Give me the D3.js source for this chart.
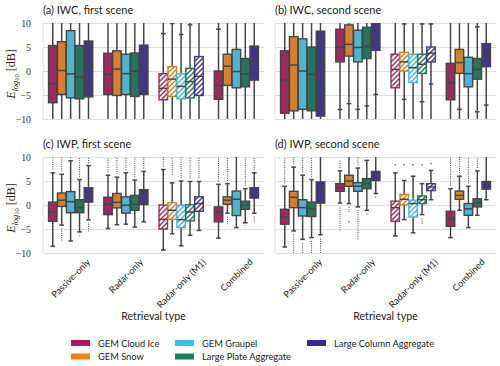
<!DOCTYPE html>
<html><head><meta charset="utf-8">
<script src="https://cdn.jsdelivr.net/npm/d3@7"></script>
<style>body{margin:0;background:#fff} svg{display:block}</style>
</head><body><svg id="c" width="500" height="366"></svg>
<script>
const retrievals = ["Passive-only", "Radar-only", "Radar-only (M1)", "Combined"];
const particles = ["GEM Cloud Ice", "GEM Snow", "GEM Graupel", "Large Plate Aggregate", "Large Column Aggregate"];
const particleColors = ["#b0175c", "#f4800f", "#36c3e8", "#1c7f5d", "#3a2796"];
const yTicks = [-10, -5, 0, 5, 10];
const panelTitles = ["(a) IWC, first scene", "(b) IWC, second scene", "(c) IWP, first scene", "(d) IWP, second scene"];
const hatchedRetrieval = "Radar-only (M1)";

// each box: [whisker low, q1, median, q3, whisker high]; rows = retrieval types, columns = particles
const iwcFirst = [
  [[-12, -6.6, -2.6, 5.3, 12], [-12, -4.9, 0.1, 6.1, 12], [-12, -5.6, -0.6, 8.4, 12], [-12, -5.8, -1.3, 5.3, 12], [-12, -5.4, 0.9, 6.25, 12]],
  [[-12, -4.9, -0.7, 3.7, 12], [-12, -5.1, 0.4, 4.2, 12], [-12, -4.9, -0.55, 3.5, 12], [-12, -5.3, -0.05, 3.75, 12], [-12, -4.9, 1.1, 5.4, 12]],
  [[-12, -6.0, -3.6, -0.55, 7.8], [-12, -5.3, -1.7, 0.9, 9.9], [-12, -5.8, -3.2, -0.6, 7.6], [-12, -5.6, -2.2, 0.55, 9.6], [-12, -5.1, -1.1, 3.0, 12]],
  [[-12, -5.9, -3.0, 0.0, 8.7], [-12, -3.0, 1.0, 3.5, 12], [-12, -3.5, -0.1, 4.5, 12], [-12, -3.3, -0.6, 2.6, 12], [-12, -1.9, 1.9, 5.2, 12]]
];
const iwcFirstFliers = [
  [[], [], [], [], []],
  [[], [], [], [], []],
  [[[7.8, 10]], [[9.9, 10]], [[7.6, 10]], [[9.6, 10]], []],
  [[[8.7, 10]], [], [], [], []]
];
const iwcSecond = [
  [[-12, -8.8, -1.9, 4.2, 12], [-12, -8.3, 1.25, 7.15, 12], [-12, -8.0, 0.0, 6.7, 12], [-12, -8.3, -0.7, 5.0, 12], [-12, -9.4, 2.4, 8.3, 12]],
  [[-8.0, 1.9, 5.0, 8.7, 12], [-6.8, 3.1, 5.55, 9.6, 12], [-8.0, 1.9, 4.9, 8.5, 12], [-7.3, 2.6, 5.1, 9.1, 12], [-4.9, 4.3, 6.5, 10.2, 12]],
  [[-12, -3.5, 0.35, 3.5, 12], [-5.9, 0.0, 1.9, 3.9, 9.8], [-12, -2.4, 0.7, 3.5, 12], [-6.4, -0.5, 1.4, 3.5, 9.8], [-2.7, 1.9, 3.7, 5.0, 9.8]],
  [[-12, -6.0, -2.4, 1.6, 12], [-8.0, -0.5, 1.75, 4.5, 12], [-12, -3.3, -0.55, 2.85, 12], [-8.5, -1.7, 0.35, 2.6, 9.2], [-7.1, 0.9, 3.5, 5.7, 12]]
];
const iwcSecondFliers = [
  [[], [], [], [], []],
  [[[-10, -8.0]], [[-10, -6.8]], [[-10, -8.0]], [[-10, -7.3]], [[-10, -4.9]]],
  [[], [[-10, -5.9], [9.8, 10]], [], [[-10, -6.4], [9.8, 10]], [[-10, -2.7], [9.8, 10]]],
  [[], [[-10, -8.0]], [], [[-10, -8.5], [9.2, 10]], [[-10, -7.1]]]
];
const iwpFirst = [
  [[-8.6, -3.4, -1.4, 0.6, 6.7], [-4.2, -0.3, 1.0, 2.5, 6.4], [-7.5, -1.6, 0.7, 2.8, 9.2], [-5.6, -1.6, -0.55, 1.1, 5.3], [-3.1, 0.6, 2.3, 3.6, 8.2]],
  [[-4.9, -2.0, 0.1, 1.6, 6.2], [-4.1, -0.6, 0.55, 2.4, 5.8], [-4.0, -1.7, -0.05, 1.7, 6.7], [-4.6, -1.1, 0.2, 2.0, 5.2], [-3.5, 0.1, 1.8, 3.2, 7.0]],
  [[-9.4, -5.0, -3.0, 0.0, 7.4], [-6.0, -3.0, -1.1, 0.5, 4.6], [-8.5, -4.7, -3.05, -0.05, 5.0], [-6.3, -3.3, -1.45, 0.05, 4.9], [-5.3, -1.3, 0.3, 1.7, 4.9]],
  [[-6.9, -3.5, -1.45, -0.4, 4.3], [-1.7, 0.15, 1.0, 1.7, 4.45], [-4.7, -2.2, 1.2, 2.9, 12], [-3.7, -0.9, -0.05, 0.8, 3.4], [-1.7, 1.45, 2.5, 3.6, 6.7]]
];
const iwpFirstFliers = [
  [[[7.4, 10]], [[-7.4, -4.9], [7.0, 10]], [[9.7, 10]], [[-6.5, -6.0], [5.9, 10]], [[-5.5, -3.6], [8.7, 10]]],
  [[[6.8, 10]], [[6.4, 10]], [[7.3, 10]], [[5.8, 10]], [[7.6, 10]]],
  [[[8.0, 10]], [[6.3, 10]], [[5.6, 10]], [[5.5, 10]], [[5.5, 10]]],
  [[[4.9, 10]], [[-4.0, -2.3], [5.0, 10]], [], [[-4.3, -4.2], [4.0, 10]], [[-3.5, -2.3], [7.3, 10]]]
];
const iwpSecond = [
  [[-8.75, -4.0, -2.5, -0.9, 3.9], [-5.4, -0.55, 1.6, 2.85, 7.9], [-7.15, -2.3, -0.55, 1.1, 6.2], [-6.8, -2.4, -0.75, 0.6, 5.3], [-6.2, 0.4, 2.9, 4.8, 12]],
  [[0.4, 2.85, 3.6, 4.45, 7.1], [0.3, 3.9, 5.0, 6.2, 12], [-0.4, 2.85, 3.9, 4.65, 7.7], [-1.1, 3.4, 4.45, 5.5, 9.3], [2.4, 5.1, 6.2, 7.0, 12]],
  [[-6.45, -3.4, -0.55, 0.8, 6.7], [-3.05, 0.05, 1.2, 2.2, 5.1], [-5.8, -2.5, 0.3, 1.0, 6.0], [-2.0, 0.3, 1.1, 1.9, 4.45], [1.1, 3.0, 3.75, 4.45, 7.2]],
  [[-6.8, -4.45, -2.9, -1.3, 3.4], [-1.1, 1.2, 2.0, 2.9, 6.0], [-4.7, -2.15, -0.8, 0.3, 3.9], [-2.15, -0.4, 0.5, 1.3, 7.1], [1.1, 3.3, 4.1, 4.9, 12]]
];
const iwpSecondFliers = [
  [[[4.5, 10]], [[-10, -6.0], [8.5, 10]], [[-10, -7.8], [6.8, 10]], [[-10, -7.4], [5.9, 10]], [[-10, -6.8]]],
  [[[-5.3, -0.2], [7.7, 9.5]], [[-3.5, -3.5], [-1.5, -0.3]], [[-7.2, -1.0], [8.3, 10]], [[-2.0, -1.7], [9.9, 10]], [[1.5, 1.8]]],
  [[[8.4, 8.4]], [[8.4, 8.4]], [[8.4, 8.4]], [[-3.9, -2.6], [8.4, 8.4]], [[8.6, 8.6]]],
  [[[4.0, 10]], [[6.6, 10]], [[4.5, 10]], [[7.7, 10]], []]
];

const boxData = [iwcFirst, iwcSecond, iwpFirst, iwpSecond];
const flierData = [iwcFirstFliers, iwcSecondFliers, iwpFirstFliers, iwpSecondFliers];

// ---------- drawing ----------
const sans = "Lato, 'DejaVu Sans', sans-serif";
const serif = "'Liberation Serif', 'DejaVu Serif', serif";
const lineCol = "#454545";
const gridCol = "#dedede";
const W = 221, H = 96;
const layout = [{x: 43, y: 23}, {x: 275, y: 23}, {x: 43, y: 157}, {x: 275, y: 157}];
const svg = d3.select("#c");
const defs = svg.append("defs");

const boxColor = c => { const h = d3.hsl(c); h.s *= 0.75; return h.formatHex(); };

particles.forEach((p, i) => {
  const col = boxColor(particleColors[i]);
  const pat = defs.append("pattern").attr("id", "hatch" + i)
    .attr("patternUnits", "userSpaceOnUse").attr("width", 5).attr("height", 5);
  pat.append("rect").attr("width", 5).attr("height", 5).attr("fill", "#fff");
  pat.append("path").attr("d", "M-1,6 L6,-1 M-1,1 L1,-1 M4,6 L6,4")
    .attr("stroke", col).attr("stroke-width", 1.4);
});

layout.forEach((L, pi) => {
  const g = svg.append("g").attr("transform", `translate(${L.x},${L.y})`);
  const y = d3.scaleLinear().domain([-10, 10]).range([H, 0]);
  const x0 = d3.scaleBand().domain(retrievals).range([0, W]);
  const bwG = x0.bandwidth();
  const x1 = d3.scaleBand().domain(particles).range([0.1 * bwG, 0.9 * bwG]).paddingInner(0.05);
  const bw = x1.bandwidth();
  const dense = pi < 2;

  // grid
  const grid = g.append("g").call(d3.axisLeft(y).tickValues(yTicks).tickSize(-W).tickFormat(""));
  grid.select(".domain").remove();
  grid.selectAll("line").attr("stroke", gridCol).attr("stroke-width", 1);
  g.append("line").attr("x1", 0).attr("x2", 0).attr("y1", 0).attr("y2", H).attr("stroke", gridCol);

  // y tick labels only on left panels
  if (pi % 2 === 0) {
    const ax = g.append("g").call(d3.axisLeft(y).tickValues(yTicks).tickSize(0).tickPadding(12));
    ax.select(".domain").remove();
    ax.selectAll("text").attr("font-family", serif).attr("font-size", 9.8).attr("fill", "#333");
    const yl = svg.append("text")
      .attr("transform", `translate(15,${L.y + H / 2 + 3}) rotate(-90)`)
      .attr("text-anchor", "middle").attr("font-family", serif).attr("font-size", 12).attr("fill", "#222");
    yl.append("tspan").attr("font-style", "italic").text("E");
    yl.append("tspan").attr("font-style", "italic").attr("font-size", 8.5).attr("dy", 2.5).text("log");
    yl.append("tspan").attr("font-size", 6.5).attr("dy", 1.5).text("10");
    yl.append("tspan").attr("dy", -4).text(" [dB]");
  }

  // title
  svg.append("text").attr("x", L.x).attr("y", L.y - 9.5)
    .attr("font-family", sans).attr("font-size", 11).attr("fill", "#222").text(panelTitles[pi]);

  const clipId = "clip" + pi;
  defs.append("clipPath").attr("id", clipId).append("rect")
    .attr("x", -2).attr("y", 0).attr("width", W + 4).attr("height", H);
  const plot = g.append("g").attr("clip-path", `url(#${clipId})`);

  boxData[pi].forEach((row, ri) => {
    const ret = retrievals[ri];
    const hatched = ret === hatchedRetrieval;
    row.forEach((b, k) => {
      const [wlo, q1, med, q3, whi] = b;
      const cx = x0(ret) + x1(particles[k]) + bw / 2;
      const col = boxColor(particleColors[k]);
      // fliers
      flierData[pi][ri][k].forEach(([a, c]) => {
        if (a === c) {
          plot.append("circle").attr("cx", cx).attr("cy", y(a)).attr("r", 0.8).attr("fill", "#555");
        } else if (dense) {
          plot.append("line").attr("x1", cx).attr("x2", cx).attr("y1", y(a)).attr("y2", y(c))
            .attr("stroke", lineCol).attr("stroke-width", 1.5);
        } else {
          plot.append("line").attr("x1", cx).attr("x2", cx).attr("y1", y(a)).attr("y2", y(c))
            .attr("stroke", "#555").attr("stroke-width", 1.1).attr("stroke-dasharray", "1,1.2");
        }
      });
      // whiskers
      plot.append("line").attr("x1", cx).attr("x2", cx).attr("y1", y(q1)).attr("y2", y(wlo))
        .attr("stroke", lineCol).attr("stroke-width", 1.5);
      plot.append("line").attr("x1", cx).attr("x2", cx).attr("y1", y(q3)).attr("y2", y(whi))
        .attr("stroke", lineCol).attr("stroke-width", 1.5);
      [wlo, whi].forEach(v => {
        if (v > -10 && v < 10) plot.append("line").attr("x1", cx - bw * 0.27).attr("x2", cx + bw * 0.27)
          .attr("y1", y(v)).attr("y2", y(v)).attr("stroke", lineCol).attr("stroke-width", 1.5);
      });
      // box
      plot.append("rect").attr("x", cx - bw / 2).attr("y", y(q3)).attr("width", bw).attr("height", y(q1) - y(q3))
        .attr("fill", hatched ? `url(#hatch${k})` : col)
        .attr("stroke", hatched ? col : lineCol).attr("stroke-width", 1.4);
      plot.append("line").attr("x1", cx - bw / 2).attr("x2", cx + bw / 2).attr("y1", y(med)).attr("y2", y(med))
        .attr("stroke", lineCol).attr("stroke-width", 1.5);
    });
  });

  // x axis labels for bottom panels
  if (pi >= 2) {
    const xa = g.append("g").attr("transform", `translate(0,${H})`).call(d3.axisBottom(x0).tickSize(0));
    xa.select(".domain").remove();
    xa.selectAll("text").attr("font-family", sans).attr("font-size", 9.2).attr("fill", "#222")
      .attr("y", 0).attr("dy", 0).attr("text-anchor", "middle").attr("dominant-baseline", "central")
      .each(function () {
        const len = this.getComputedTextLength();
        const h = 9.2;
        const off = 4 + (len + h) / (2 * Math.SQRT2);
        d3.select(this).attr("transform", `translate(0,${off}) rotate(-45)`);
      });
    svg.append("text").attr("x", L.x + W / 2).attr("y", 320).attr("text-anchor", "middle")
      .attr("font-family", sans).attr("font-size", 10.7).attr("fill", "#222").text("Retrieval type");
  }
});

// legend
const legX = [71, 175, 307];
const legY = [340, 353.5];
particles.forEach((p, i) => {
  const c = Math.floor(i / 2), r = i % 2;
  svg.append("rect").attr("x", legX[c]).attr("y", legY[r]).attr("width", 19).attr("height", 6)
    .attr("fill", particleColors[i]);
  svg.append("text").attr("x", legX[c] + 27).attr("y", legY[r] + 6.5)
    .attr("font-family", sans).attr("font-size", 9.3).attr("fill", "#222").text(p);
});
</script></body></html>
